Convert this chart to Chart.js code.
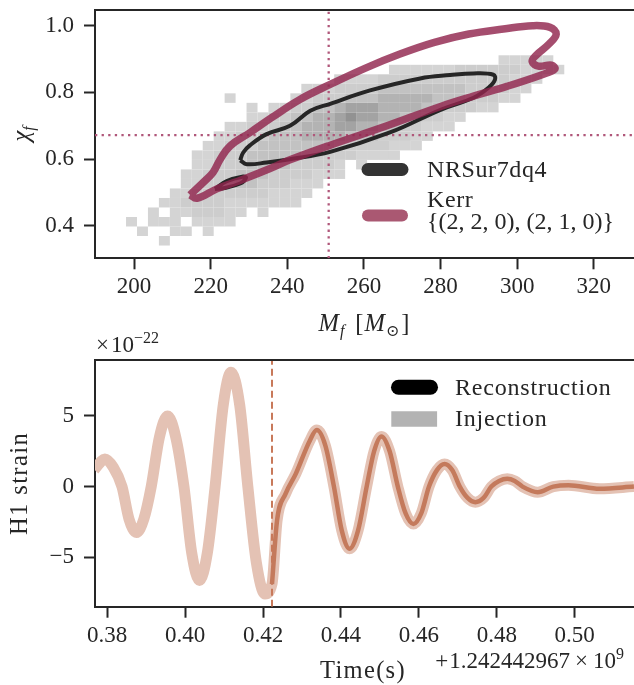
<!DOCTYPE html>
<html>
<head>
<meta charset="utf-8">
<script src="https://cdn.jsdelivr.net/npm/chart.js@4.4.0/dist/chart.umd.min.js"></script>
<style>
  body { margin: 0; background: #fff; }
  #wrap { position: relative; width: 634px; height: 685px; overflow: hidden; }
  canvas { position: absolute; left: 0; }
  #remnant { top: 0; }
  #strain { top: 325px; }
</style>
</head>
<body>
<div id="wrap">
  <canvas id="remnant" width="634" height="345"></canvas>
  <canvas id="strain" width="634" height="360"></canvas>
</div>
<script>
// ---- remnant mass / spin posterior ----
const mfTicks = [200, 220, 240, 260, 280, 300, 320];
const chiTicks = [0.4, 0.6, 0.8, 1.0];

// 2D histogram of NRSur7dq4 samples: bin edges and shaded cells
const mfBin0 = 197.9, mfBinW = 2.86;
const chiBin0 = 0.3128, chiBinH = 0.0285;
// [chi row, first mf column, shade per column ('.' = empty)]
const histRows = [
  [1, 3, '1'],
  [2, 1, '1..11.1'],
  [3, 0, '1.111.1111'],
  [4, 2, '1.1122211.1'],
  [5, 3, '1122221111111'],
  [6, 4, '1122222221111'],
  [7, 5, '1122233222111'],
  [8, 5, '112223332222111'],
  [9, 6, '11222333322221.1'],
  [10, 6, '1122233333222221111'],
  [11, 7, '11222333333322222111'],
  [12, 8, '11222333444433322211'],
  [13, 9, '112223344455443322111'],
  [14, 11, '11223344565544332211'],
  [15, 11, '1.112233455544443322211'],
  [16, 9, '1.....112223334444433322211'],
  [17, 16, '111222233333333222211'],
  [18, 19, '1111222222222222111'],
  [19, 24, '1111112222221111'],
  [20, 34, '11111']
];
const shades = ['', '#d4d4d4', '#cdcdcd', '#c2c2c2', '#b3b3b3', '#a3a3a3', '#929292'];

// 90% credible contour, Kerr {(2,2,0),(2,1,0)} fit
const kerrMf = [214.6, 218.1, 220.6, 222.5, 225.1, 230.3, 236.0, 243.3, 251.2, 260.4, 269.4, 278.4, 287.4, 296.4, 304.0, 308.6, 310.2, 308.3, 305.0, 303.9, 305.5, 309.0, 309.8, 306.5, 297.3, 288.6, 280.0, 266.0, 251.2, 240.7, 235.5, 228.5, 221.6, 216.4, 214.6];
const kerrChi = [0.493, 0.531, 0.560, 0.600, 0.640, 0.680, 0.725, 0.779, 0.824, 0.873, 0.915, 0.950, 0.975, 0.990, 1.000, 0.995, 0.975, 0.945, 0.912, 0.893, 0.879, 0.882, 0.870, 0.853, 0.818, 0.789, 0.758, 0.700, 0.642, 0.598, 0.572, 0.540, 0.511, 0.483, 0.493];

// 90% credible contour, NRSur7dq4
const nrsurMf = [227.7, 228.5, 230.3, 234.6, 240.7, 246.0, 251.2, 261.6, 274.7, 282.5, 288.6, 293.8, 294.2, 292.5, 288.6, 280.0, 266.8, 251.2, 240.7, 234.6, 229.4, 227.7];
const nrsurChi = [0.597, 0.620, 0.642, 0.675, 0.700, 0.745, 0.766, 0.806, 0.842, 0.852, 0.857, 0.853, 0.838, 0.814, 0.784, 0.748, 0.680, 0.622, 0.600, 0.590, 0.585, 0.597];
const nrsurIslandMf = [221.1, 224.2, 228.5, 229.2, 227.7, 223.3, 221.1];
const nrsurIslandChi = [0.511, 0.534, 0.548, 0.544, 0.527, 0.513, 0.511];

// injected remnant values
const injMf = 250.8;
const injChi = 0.672;

const mfMin = 189.8, mfMax = 330.5;
const chiMin = 0.303, chiMax = 1.047;

// ---- H1 strain, seconds after 1.242442967e9 ----
const timeS = [0.3767, 0.3794, 0.3816, 0.3838, 0.3856, 0.3875, 0.3894, 0.3913, 0.3934, 0.3955, 0.3976, 0.3997,
  0.4017, 0.4037, 0.4057, 0.4077, 0.4098, 0.4118, 0.4140, 0.4161, 0.4183, 0.4205,
  0.4223, 0.4236, 0.4258, 0.4284, 0.4320, 0.4338, 0.4360, 0.4382, 0.4402, 0.4422, 0.4444, 0.4466,
  0.4485, 0.4504, 0.4525, 0.4546, 0.4566, 0.4586, 0.4606, 0.4626, 0.4646, 0.4666, 0.4686, 0.4705,
  0.4725, 0.4745, 0.4766, 0.4786, 0.4806, 0.4827, 0.4846, 0.4866, 0.4905, 0.4945, 0.4984, 0.5064, 0.5152];
const injStrain = [1.2, 1.95, 1.35, 0.0, -2.3, -3.25, -2.3, 0.0, 3.5, 5.0, 3.5, 0.0,
  -4.7, -6.65, -4.7, 0.0, 5.8, 8.1, 5.8, 0.0, -5.4, -7.6,
  -6.9, -2.4, -0.5, 0.9, 3.25, 4.0, 2.9, 0.0, -3.1, -4.4, -3.1, 0.0,
  2.5, 3.55, 2.5, 0.0, -1.9, -2.65, -1.9, 0.0, 1.15, 1.6, 1.15, 0.0,
  -0.8, -1.1, -0.8, 0.0, 0.4, 0.55, 0.4, 0.0, -0.4, 0.0, 0.1, -0.15, 0.0];
const recStrain = [null, null, null, null, null, null, null, null, null, null, null, null,
  null, null, null, null, null, null, null, null, null, null,
  -6.9, -2.4, -0.5, 0.9, 3.25, 4.0, 2.9, 0.0, -3.1, -4.4, -3.1, 0.0,
  2.5, 3.55, 2.5, 0.0, -1.9, -2.65, -1.9, 0.0, 1.15, 1.6, 1.15, 0.0,
  -0.8, -1.1, -0.8, 0.0, 0.4, 0.55, 0.4, 0.0, -0.4, 0.0, 0.1, -0.15, 0.0];
const tStart = 0.4223;   // ringdown analysis start
const timeTicks = [0.38, 0.40, 0.42, 0.44, 0.46, 0.48, 0.50];
const strainTicks = [-5, 0, 5];
const tMin = 0.37687, tMax = 0.51522;
const sMin = -8.5, sMax = 8.96;

const SERIF = "'Liberation Serif', 'DejaVu Serif', serif";
const INK = '#262626';
const f24 = '24px ' + SERIF, f23 = '23px ' + SERIF, i24 = 'italic 24.5px ' + SERIF;
const f16 = '16px ' + SERIF, i16 = 'italic 16px ' + SERIF, f25 = '24.5px ' + SERIF;

Chart.defaults.font.family = SERIF;
Chart.defaults.color = INK;

function pts(xs, ys) {
  return xs.map((v, k) => ({ x: v, y: ys[k] })).filter(p => p.y !== null);
}

// text made of runs: [text, font, dy, extra gap]
function mathText(ctx, x, y, runs, align) {
  let w = 0;
  runs.forEach(r => { ctx.font = r[1]; w += ctx.measureText(r[0]).width + (r[3] || 0); });
  if (align === 'center') x -= w / 2;
  if (align === 'right') x -= w;
  runs.forEach(r => {
    ctx.font = r[1];
    ctx.fillText(r[0], x, y + (r[2] || 0));
    x += ctx.measureText(r[0]).width + (r[3] || 0);
  });
}

function spaced(ctx, text, x, y, font, gap) {
  ctx.font = font;
  ctx.letterSpacing = gap + 'px';
  ctx.fillText(text, x, y);
  ctx.letterSpacing = '0px';
}

function topBorder(chart) {
  const { ctx, chartArea } = chart;
  ctx.save();
  ctx.strokeStyle = INK;
  ctx.lineWidth = 2;
  ctx.beginPath();
  ctx.moveTo(chartArea.left - 1, chartArea.top);
  ctx.lineTo(chartArea.right, chartArea.top);
  ctx.stroke();
  ctx.restore();
}

function axisX(min, max, ticks, height, fmt) {
  return {
    type: 'linear', min: min, max: max,
    afterBuildTicks: s => { s.ticks = ticks.map(v => ({ value: v })); },
    afterFit: s => { s.height = height; s.paddingLeft = 0; s.paddingRight = 0; },
    grid: { drawOnChartArea: false, drawTicks: true, tickLength: 11, tickWidth: 2, tickColor: INK },
    border: { display: true, color: INK, width: 2 },
    ticks: { font: { size: 23 }, color: INK, padding: 4, maxRotation: 0, autoSkip: false, callback: fmt }
  };
}

function axisY(min, max, ticks, fmt) {
  return {
    type: 'linear', min: min, max: max,
    afterBuildTicks: s => { s.ticks = ticks.map(v => ({ value: v })); },
    afterFit: s => { s.width = 95; s.paddingTop = 0; s.paddingBottom = 0; },
    grid: { drawOnChartArea: false, drawTicks: true, tickLength: 11, tickWidth: 2, tickColor: INK },
    border: { display: true, color: INK, width: 2 },
    ticks: { font: { size: 23 }, color: INK, padding: 10, autoSkip: false, callback: fmt }
  };
}

// histogram cells under the contours
const hist2d = {
  id: 'hist2d',
  beforeDatasetsDraw(chart) {
    const { ctx, chartArea, scales: { x, y } } = chart;
    ctx.save();
    ctx.beginPath();
    ctx.rect(chartArea.left, chartArea.top, chartArea.width, chartArea.height);
    ctx.clip();
    histRows.forEach(([j, i0, row]) => {
      for (let k = 0; k < row.length; k++) {
        if (row[k] === '.') continue;
        const i = i0 + k;
        const x0 = x.getPixelForValue(mfBin0 + i * mfBinW);
        const x1 = x.getPixelForValue(mfBin0 + (i + 1) * mfBinW);
        const y0 = y.getPixelForValue(chiBin0 + (j + 1) * chiBinH);
        const y1 = y.getPixelForValue(chiBin0 + j * chiBinH);
        ctx.fillStyle = shades[+row[k]];
        ctx.fillRect(x0, y0, x1 - x0, y1 - y0);
      }
    });
    ctx.restore();
  }
};

const remnantDecor = {
  id: 'remnantDecor',
  afterDraw(chart) {
    const { ctx } = chart;
    topBorder(chart);
    ctx.save();
    ctx.fillStyle = INK;
    ctx.textBaseline = 'alphabetic';
    // axis titles
    ctx.save();
    ctx.translate(29, 134);
    ctx.rotate(-Math.PI / 2);
    mathText(ctx, 0, 0, [['χ', i24], ['f', i16, 5]], 'center');
    ctx.restore();
    mathText(ctx, 364, 331, [['M', i24, 0, 1], ['f', i16, 5, 11], ['[', f25, 0, 1], ['M', i24, 0, 1], ['⊙', f16, 5, 2], [']', f25]], 'center');
    // legend
    ctx.lineCap = 'round';
    ctx.lineWidth = 13;
    ctx.strokeStyle = '#333333';
    ctx.beginPath(); ctx.moveTo(368, 169.5); ctx.lineTo(402, 169.5); ctx.stroke();
    ctx.lineWidth = 12;
    ctx.strokeStyle = '#aa5872';
    ctx.beginPath(); ctx.moveTo(368, 215.5); ctx.lineTo(402, 215.5); ctx.stroke();
    spaced(ctx, 'NRSur7dq4', 427, 177, f24, 0.6);
    spaced(ctx, 'Kerr', 427, 206.5, f24, 0.6);
    spaced(ctx, '{(2, 2, 0), (2, 1, 0)}', 427, 229, f24, 0);
    ctx.restore();
  }
};

const line = (data, color, width, order, extra) => Object.assign({
  data: data, borderColor: color, borderWidth: width, showLine: true,
  pointRadius: 0, fill: false, order: order
}, extra || {});

new Chart(document.getElementById('remnant'), {
  type: 'scatter',
  data: {
    datasets: [
      line(pts(kerrMf, kerrChi), 'rgba(145, 38, 78, 0.82)', 7.5, 0, { tension: 0.4 }),
      line(pts(nrsurMf, nrsurChi), '#262626', 4, 1, { tension: 0.4 }),
      line(pts(nrsurIslandMf, nrsurIslandChi), '#262626', 4, 1, { tension: 0.4 }),
      line([{ x: injMf, y: chiMin }, { x: injMf, y: chiMax }], '#b0577a', 2.3, 3, { borderDash: [2.3, 4.3] }),
      line([{ x: mfMin, y: injChi }, { x: mfMax, y: injChi }], '#b0577a', 2.3, 3, { borderDash: [2.3, 4.3] })
    ]
  },
  options: {
    responsive: false, animation: false, devicePixelRatio: 1,
    layout: { padding: { top: 10, left: 0, right: 0, bottom: 0 } },
    plugins: { legend: { display: false }, tooltip: { enabled: false } },
    scales: {
      x: axisX(mfMin, mfMax, mfTicks, 86.7, v => String(v)),
      y: axisY(chiMin, chiMax, chiTicks, v => v.toFixed(1))
    }
  },
  plugins: [hist2d, remnantDecor]
});

const strainDecor = {
  id: 'strainDecor',
  afterDraw(chart) {
    const { ctx } = chart;
    topBorder(chart);
    ctx.save();
    ctx.fillStyle = INK;
    ctx.textBaseline = 'alphabetic';
    ctx.save();
    ctx.translate(27, 158.5);
    ctx.rotate(-Math.PI / 2);
    ctx.textAlign = 'center';
    spaced(ctx, 'H1 strain', 0, 0, f25, 1.4);
    ctx.restore();
    mathText(ctx, 96, 26.7, [['×', f23, 0, 2], ['10', f23], ['−22', f16, -9]]);
    ctx.textAlign = 'center';
    spaced(ctx, 'Time(s)', 363, 353, f25, 1.3);
    ctx.textAlign = 'left';
    mathText(ctx, 624, 343, [['+', f23, 0, 1], ['1.242442967', f23, 0, 5], ['×', f23, 0, 5], ['10', f23], ['9', f16, -9]], 'right');
    // legend
    ctx.lineCap = 'round';
    ctx.lineWidth = 15;
    ctx.strokeStyle = '#000000';
    ctx.beginPath(); ctx.moveTo(398.5, 62.3); ctx.lineTo(430.5, 62.3); ctx.stroke();
    ctx.lineCap = 'butt';
    ctx.lineWidth = 15.5;
    ctx.strokeStyle = '#b3b3b3';
    ctx.beginPath(); ctx.moveTo(391.3, 94); ctx.lineTo(437.1, 94); ctx.stroke();
    spaced(ctx, 'Reconstruction', 455, 70, f24, 0.8);
    spaced(ctx, 'Injection', 455, 100.5, f24, 0.8);
    ctx.restore();
  }
};

new Chart(document.getElementById('strain'), {
  type: 'scatter',
  data: {
    datasets: [
      line(pts(timeS, recStrain), '#c47a5c', 4.5, 0, { cubicInterpolationMode: 'monotone' }),
      line([{ x: tStart, y: sMin }, { x: tStart, y: sMax }], '#c8795a', 2, 1, { borderDash: [7, 4] }),
      line(pts(timeS, injStrain), '#e4c2b4', 11, 2, { cubicInterpolationMode: 'monotone' })
    ]
  },
  options: {
    responsive: false, animation: false, devicePixelRatio: 1,
    layout: { padding: { top: 35, left: 0, right: 0, bottom: 0 } },
    plugins: { legend: { display: false }, tooltip: { enabled: false } },
    scales: {
      x: axisX(tMin, tMax, timeTicks, 78.3, v => v.toFixed(2)),
      y: axisY(sMin, sMax, strainTicks, v => (v < 0 ? '−' + Math.abs(v) : String(v)))
    }
  },
  plugins: [strainDecor]
});
</script>
</body>
</html>
